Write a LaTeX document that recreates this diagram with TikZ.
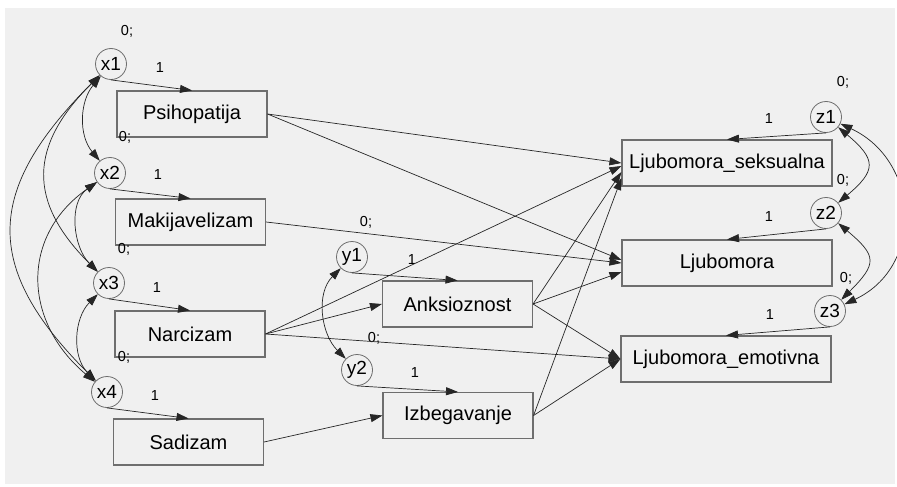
\documentclass[tikz,border=0pt]{standalone}
\usepackage{fontspec}
\setmainfont{Liberation Sans}
\usetikzlibrary{arrows.meta}
\definecolor{panelgrey}{HTML}{F0F0F0}
\definecolor{edgegrey}{HTML}{6E6E6E}
\tikzset{
	obs/.style={draw=edgegrey, line width=1.1pt, minimum width=150pt, minimum height=46pt, inner sep=0pt, font=\fontsize{20}{20}\selectfont},
	wide/.style={obs, minimum width=210pt},
	err/.style={circle, draw=edgegrey, line width=0.8pt, minimum size=31pt, inner sep=0pt, font=\fontsize{19}{19}\selectfont},
	lbl/.style={inner sep=0pt, font=\fontsize{14.5}{14.5}\selectfont},
	reg/.style={draw=black!85, line width=0.7pt, -{Triangle[length=12pt,width=8pt]}},
	cov/.style={draw=black!85, line width=0.7pt, {Triangle[length=12pt,width=8pt]}-{Triangle[length=12pt,width=8pt]}}
}

\begin{document}
\begin{tikzpicture}[x=1pt, y=-1pt]
			%%%%% START %%%%%
			
			\useasboundingbox (0, 0) rectangle (897, 487);
			\fill[panelgrey] (5, 8) rectangle (895, 484);
			
			% observed
			\node[obs] (psi) at (192, 114) {Psihopatija};
			\node[obs] (mak) at (190.5, 222) {Makijavelizam};
			\node[obs] (nar) at (190, 334) {Narcizam};
			\node[obs] (sad) at (188.5, 442) {Sadizam};
			\node[obs] (anx) at (457.5, 304) {Anksioznost};
			\node[obs] (izb) at (458, 415.5) {Izbegavanje};
			\node[wide] (seks) at (727, 163) {Ljubomora\_seksualna};
			\node[wide] (ljub) at (727, 263) {Ljubomora};
			\node[wide] (emo) at (726, 359) {Ljubomora\_emotivna};
			
			% errors
			\node[err] (x1) at (111, 64) {x1};
			\node[err] (x2) at (110, 173) {x2};
			\node[err] (x3) at (109, 283) {x3};
			\node[err] (x4) at (107, 392) {x4};
			\node[err] (y1) at (352, 257) {y1};
			\node[err] (y2) at (357, 370) {y2};
			\node[err] (z1) at (826, 117) {z1};
			\node[err] (z2) at (826, 213) {z2};
			\node[err] (z3) at (830, 311) {z3};
			
			% weights
			\node[lbl] (vx1) at (127, 31) {0;};
			\node[lbl] (wx1) at (160, 68) {1};
			\node[lbl] (vx2) at (125, 137) {0;};
			\node[lbl] (wx2) at (158, 175) {1};
			\node[lbl] (vx3) at (124, 249) {0;};
			\node[lbl] (wx3) at (157, 288) {1};
			\node[lbl] (vx4) at (124, 357) {0;};
			\node[lbl] (wx4) at (155, 396) {1};
			\node[lbl] (vy1) at (366, 222) {0;};
			\node[lbl] (wy1) at (412, 260) {1};
			\node[lbl] (vy2) at (374, 338) {0;};
			\node[lbl] (wy2) at (415, 373) {1};
			\node[lbl] (vz1) at (843, 82) {0;};
			\node[lbl] (wz1) at (769, 119) {1};
			\node[lbl] (vz2) at (843, 180) {0;};
			\node[lbl] (wz2) at (769, 217) {1};
			\node[lbl] (vz3) at (846, 278) {0;};
			\node[lbl] (wz3) at (770, 315) {1};
			
			\draw[reg] (x1.south) -- (psi.north);
			\draw[reg] (x2.south) -- (mak.north);
			\draw[reg] (x3.south) -- (nar.north);
			\draw[reg] (x4.south) -- (sad.north);
			\draw[reg] (y1.south) -- (anx.north);
			\draw[reg] (y2.south) -- (izb.north);
			\draw[reg] (z1.south) -- (seks.north);
			\draw[reg] (z2.south) -- (ljub.north);
			\draw[reg] (z3.south) -- (emo.north);
			
			\draw[reg] (psi.east) -- (seks.west);
			\draw[reg] (psi.east) -- ([yshift=3]ljub.west);
			\draw[reg] (mak.east) -- (ljub.west);
			\draw[reg] (nar.east) -- ([yshift=-3]seks.west);
			\draw[reg] (nar.east) -- (anx.west);
			\draw[reg] (nar.east) -- (emo.west);
			\draw[reg] (sad.east) -- (izb.west);
			\draw[reg] (anx.east) -- ([yshift=-9]seks.west);
			\draw[reg] (anx.east) -- ([yshift=-9]ljub.west);
			\draw[reg] (anx.east) -- (emo.west);
			\draw[reg] (izb.east) -- ([yshift=-15]seks.west);
			\draw[reg] (izb.east) -- (emo.west);
			
			\draw[cov] (x1) to[out=230, in=130] (x2);
			\draw[cov] (x1) to[out=225, in=135, looseness=1.3] (x3);
			\draw[cov] (x1) to[out=225, in=135, looseness=1.35] (x4);
			\draw[cov] (x2) to[out=215, in=135] (x3);
			\draw[cov] (x2) to[out=215, in=140, looseness=1.2] (x4);
			\draw[cov] (x3) to[out=225, in=135] (x4);
			\draw[cov] (y1) to[out=225, in=135] (y2);
			\draw[cov] (z1) to[out=-40, in=40, looseness=1.7] (z2);
			\draw[cov] (z1) to[out=-25, in=25, looseness=1.25] (z3);
			\draw[cov] (z2) to[out=-40, in=45, looseness=1.7] (z3);
			
			%%%%% END %%%%%
		\end{tikzpicture}
\end{document}
